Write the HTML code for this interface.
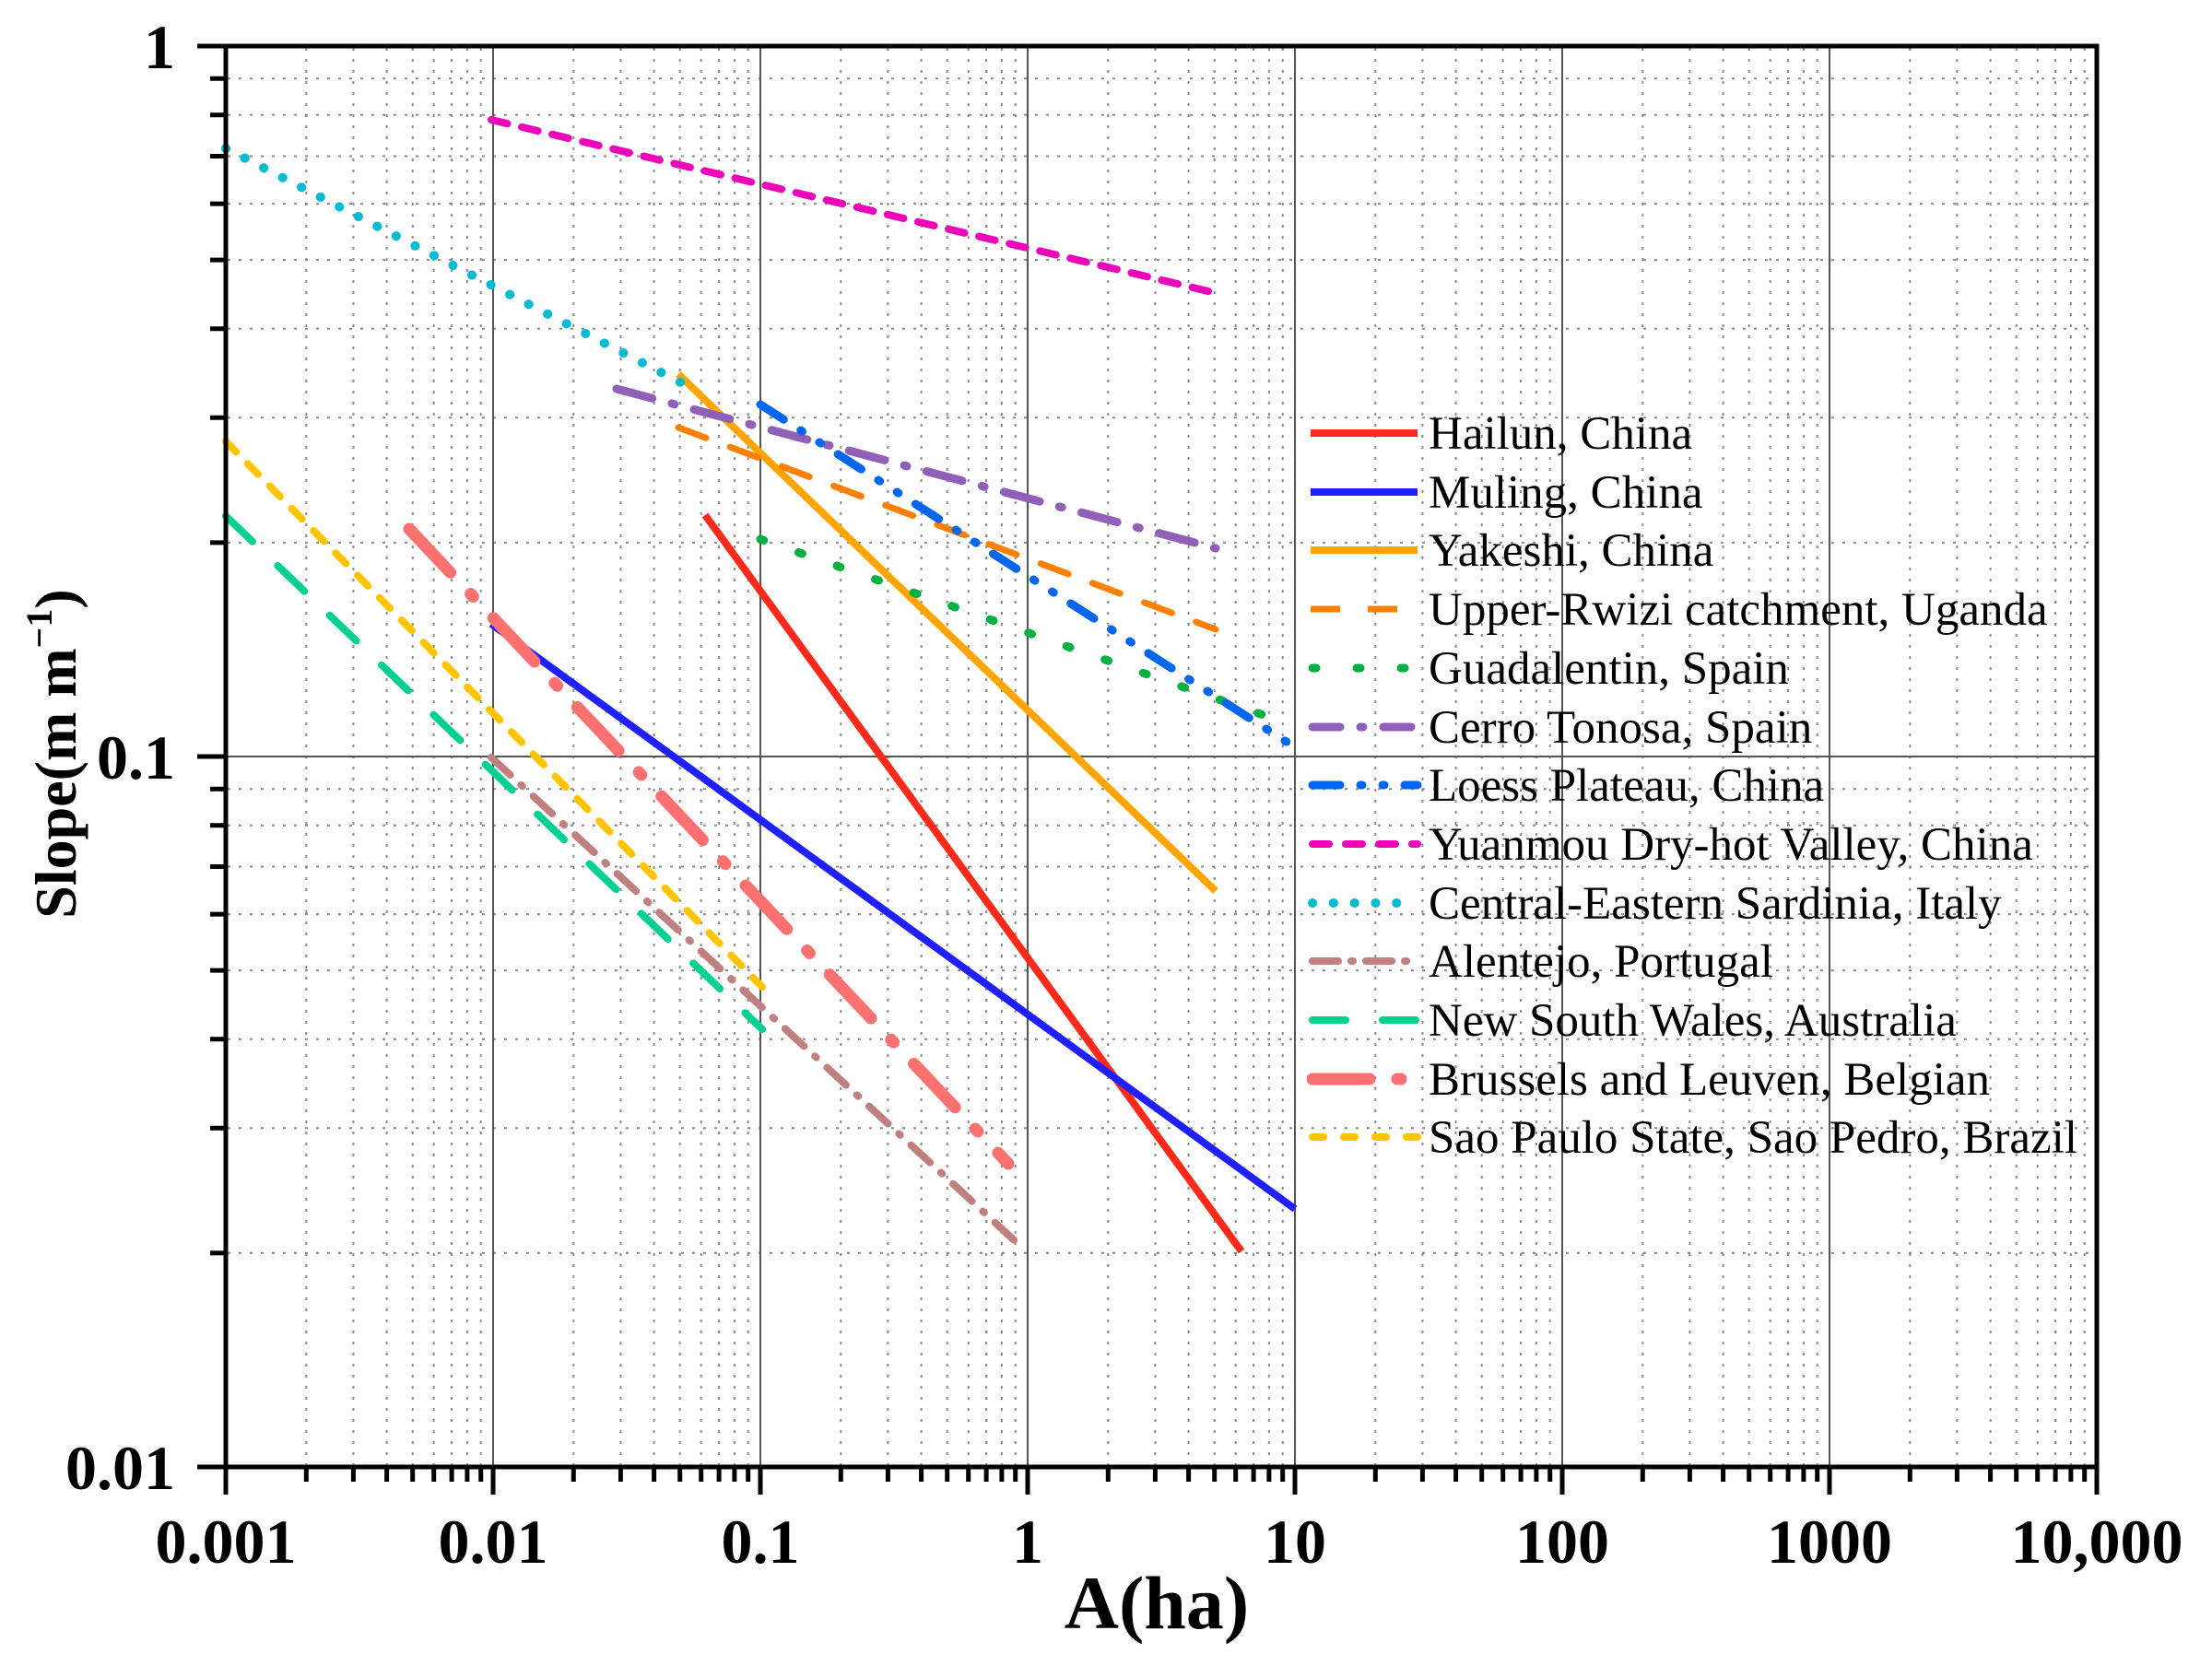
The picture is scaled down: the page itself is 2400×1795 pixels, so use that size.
<!DOCTYPE html>
<html><head><meta charset="utf-8"><style>
html,body{margin:0;padding:0;background:#fff;}
svg{display:block;font-family:"Liberation Serif",serif;}
</style></head><body>
<svg width="2400" height="1795" viewBox="0 0 2400 1795" xmlns="http://www.w3.org/2000/svg">
<defs>
<g id="vm" stroke="#8a8a8a" stroke-width="2" stroke-dasharray="3,9">
<line x1="87.3" y1="52" x2="87.3" y2="1590"/><line x1="138.4" y1="52" x2="138.4" y2="1590"/><line x1="174.6" y1="52" x2="174.6" y2="1590"/><line x1="202.7" y1="52" x2="202.7" y2="1590"/><line x1="225.7" y1="52" x2="225.7" y2="1590"/><line x1="245.1" y1="52" x2="245.1" y2="1590"/><line x1="261.9" y1="52" x2="261.9" y2="1590"/><line x1="276.7" y1="52" x2="276.7" y2="1590"/>
</g>
<g id="hm" stroke="#8a8a8a" stroke-width="2" stroke-dasharray="3,9">
<line x1="247" y1="-232.1" x2="2273" y2="-232.1"/><line x1="247" y1="-367.8" x2="2273" y2="-367.8"/><line x1="247" y1="-464.2" x2="2273" y2="-464.2"/><line x1="247" y1="-538.9" x2="2273" y2="-538.9"/><line x1="247" y1="-599.9" x2="2273" y2="-599.9"/><line x1="247" y1="-651.5" x2="2273" y2="-651.5"/><line x1="247" y1="-696.3" x2="2273" y2="-696.3"/><line x1="247" y1="-735.7" x2="2273" y2="-735.7"/>
</g>
<g id="bt" stroke="#000" stroke-width="5">
<line x1="87.3" y1="1592" x2="87.3" y2="1608"/><line x1="138.4" y1="1592" x2="138.4" y2="1608"/><line x1="174.6" y1="1592" x2="174.6" y2="1608"/><line x1="202.7" y1="1592" x2="202.7" y2="1608"/><line x1="225.7" y1="1592" x2="225.7" y2="1608"/><line x1="245.1" y1="1592" x2="245.1" y2="1608"/><line x1="261.9" y1="1592" x2="261.9" y2="1608"/><line x1="276.7" y1="1592" x2="276.7" y2="1608"/>
</g>
<g id="lt" stroke="#000" stroke-width="5">
<line x1="228" y1="-232.1" x2="245" y2="-232.1"/><line x1="228" y1="-367.8" x2="245" y2="-367.8"/><line x1="228" y1="-464.2" x2="245" y2="-464.2"/><line x1="228" y1="-538.9" x2="245" y2="-538.9"/><line x1="228" y1="-599.9" x2="245" y2="-599.9"/><line x1="228" y1="-651.5" x2="245" y2="-651.5"/><line x1="228" y1="-696.3" x2="245" y2="-696.3"/><line x1="228" y1="-735.7" x2="245" y2="-735.7"/>
</g>
</defs>
<use href="#vm" x="245"/><use href="#vm" x="535"/><use href="#vm" x="825"/><use href="#vm" x="1115"/><use href="#vm" x="1405"/><use href="#vm" x="1695"/><use href="#vm" x="1985"/>
<use href="#hm" y="1592"/><use href="#hm" y="821"/>
<g stroke="#555" stroke-width="2">
<line x1="535" y1="50" x2="535" y2="1592"/><line x1="825" y1="50" x2="825" y2="1592"/><line x1="1115" y1="50" x2="1115" y2="1592"/><line x1="1405" y1="50" x2="1405" y2="1592"/><line x1="1695" y1="50" x2="1695" y2="1592"/><line x1="1985" y1="50" x2="1985" y2="1592"/>
<line x1="245" y1="821" x2="2275" y2="821"/>
</g>
<g fill="none">
<line x1="765" y1="559" x2="1347" y2="1358" stroke="#ff2a1a" stroke-width="8"/>
<line x1="533" y1="677" x2="1405" y2="1312" stroke="#2020ff" stroke-width="8"/>
<line x1="736" y1="406" x2="1319" y2="967" stroke="#ffa500" stroke-width="8"/>
<line x1="736" y1="464" x2="1319" y2="683" stroke="#ff8000" stroke-width="7" stroke-dasharray="32,28" stroke-linecap="round"/>
<line x1="825" y1="585" x2="1405" y2="788" stroke="#00b040" stroke-width="9" stroke-dasharray="4,40" stroke-linecap="round"/>
<line x1="669" y1="422" x2="1319" y2="595" stroke="#9060b8" stroke-width="9" stroke-dasharray="40,22,3,22" stroke-linecap="round"/>
<line x1="825" y1="439" x2="1405" y2="811" stroke="#0066ee" stroke-width="9" stroke-dasharray="30,22,2,22,2,22" stroke-linecap="round"/>
<line x1="533" y1="130" x2="1319" y2="318" stroke="#ee00bb" stroke-width="8" stroke-dasharray="18,16" stroke-linecap="round"/>
<line x1="245" y1="161" x2="750" y2="421" stroke="#00bcd0" stroke-width="10" stroke-dasharray="0.1,23" stroke-linecap="round"/>
<line x1="533" y1="822" x2="1108" y2="1353" stroke="#c08080" stroke-width="8" stroke-dasharray="28,16,2,16" stroke-linecap="round"/>
<line x1="245" y1="560" x2="827" y2="1117" stroke="#00d090" stroke-width="8" stroke-dasharray="40,38" stroke-linecap="round"/>
<line x1="444" y1="574" x2="1094" y2="1263" stroke="#ff7070" stroke-width="13" stroke-dasharray="65,32,4,32" stroke-linecap="round"/>
<line x1="245" y1="479" x2="827" y2="1071" stroke="#ffc400" stroke-width="8" stroke-dasharray="16,18" stroke-linecap="round"/>
</g>
<rect x="245" y="50" width="2030" height="1542" fill="none" stroke="#000" stroke-width="5"/>
<use href="#bt" x="245"/><use href="#bt" x="535"/><use href="#bt" x="825"/><use href="#bt" x="1115"/><use href="#bt" x="1405"/><use href="#bt" x="1695"/><use href="#bt" x="1985"/>
<g stroke="#000" stroke-width="5">
<line x1="245" y1="1592" x2="245" y2="1622"/><line x1="535" y1="1592" x2="535" y2="1622"/><line x1="825" y1="1592" x2="825" y2="1622"/><line x1="1115" y1="1592" x2="1115" y2="1622"/><line x1="1405" y1="1592" x2="1405" y2="1622"/><line x1="1695" y1="1592" x2="1695" y2="1622"/><line x1="1985" y1="1592" x2="1985" y2="1622"/><line x1="2275" y1="1592" x2="2275" y2="1622"/>
<line x1="214" y1="50" x2="245" y2="50"/><line x1="214" y1="821" x2="245" y2="821"/><line x1="214" y1="1592" x2="245" y2="1592"/>
</g>
<use href="#lt" y="1592"/><use href="#lt" y="821"/>
<g font-weight="bold" font-size="68" text-anchor="middle">
<text x="245" y="1696">0.001</text><text x="535" y="1696">0.01</text><text x="825" y="1696">0.1</text><text x="1115" y="1696">1</text><text x="1405" y="1696">10</text><text x="1695" y="1696">100</text><text x="1985" y="1696">1000</text><text x="2275" y="1696">10,000</text>
</g>
<g font-weight="bold" font-size="68" text-anchor="end">
<text x="190" y="74">1</text><text x="190" y="845">0.1</text><text x="190" y="1616">0.01</text>
</g>
<text x="1255" y="1767" font-weight="bold" font-size="82" text-anchor="middle">A(ha)</text>
<text transform="translate(82,818) rotate(-90)" font-weight="bold" font-size="64" text-anchor="middle">Slope(m m<tspan font-size="40" dy="-26">−1</tspan><tspan dy="26">)</tspan></text>
<g fill="none" stroke-width="8">
<line x1="1422" y1="470" x2="1538" y2="470" stroke="#ff2a1a"/>
<line x1="1422" y1="534" x2="1538" y2="534" stroke="#2020ff"/>
<line x1="1422" y1="597" x2="1538" y2="597" stroke="#ffa500"/>
<line x1="1422" y1="661" x2="1538" y2="661" stroke="#ff8000" stroke-width="7" stroke-dasharray="32,30"/>
<line x1="1424" y1="725" x2="1538" y2="725" stroke="#00b040" stroke-width="9" stroke-dasharray="4,44" stroke-linecap="round"/>
<line x1="1424" y1="789" x2="1538" y2="789" stroke="#9060b8" stroke-width="9" stroke-dasharray="30,22,3,22" stroke-linecap="round"/>
<line x1="1424" y1="852" x2="1538" y2="852" stroke="#0066ee" stroke-width="9" stroke-dasharray="30,22,2,22,2,22" stroke-linecap="round"/>
<line x1="1424" y1="916" x2="1538" y2="916" stroke="#ee00bb" stroke-dasharray="18,18" stroke-linecap="round"/>
<line x1="1424" y1="980" x2="1538" y2="980" stroke="#00bcd0" stroke-width="10" stroke-dasharray="0.1,22.7" stroke-linecap="round"/>
<line x1="1424" y1="1043" x2="1538" y2="1043" stroke="#c08080" stroke-dasharray="28,14,2,14" stroke-linecap="round"/>
<line x1="1424" y1="1107" x2="1536" y2="1107" stroke="#00d090" stroke-dasharray="36,40" stroke-linecap="round"/>
<line x1="1424" y1="1171" x2="1538" y2="1171" stroke="#ff7070" stroke-width="13" stroke-dasharray="62,30,4,30" stroke-linecap="round"/>
<line x1="1424" y1="1234" x2="1538" y2="1234" stroke="#ffc400" stroke-dasharray="12,22" stroke-linecap="round"/>
</g>
<g font-size="51" fill="#000">
<text x="1550" y="487">Hailun, China</text>
<text x="1550" y="551">Muling, China</text>
<text x="1550" y="614">Yakeshi, China</text>
<text x="1550" y="678">Upper-Rwizi catchment, Uganda</text>
<text x="1550" y="742">Guadalentin, Spain</text>
<text x="1550" y="806">Cerro Tonosa, Spain</text>
<text x="1550" y="869">Loess Plateau, China</text>
<text x="1550" y="933">Yuanmou Dry-hot Valley, China</text>
<text x="1550" y="997">Central-Eastern Sardinia, Italy</text>
<text x="1550" y="1060">Alentejo, Portugal</text>
<text x="1550" y="1124">New South Wales, Australia</text>
<text x="1550" y="1188">Brussels and Leuven, Belgian</text>
<text x="1550" y="1251">Sao Paulo State, Sao Pedro, Brazil</text>
</g>
</svg>
</body></html>
